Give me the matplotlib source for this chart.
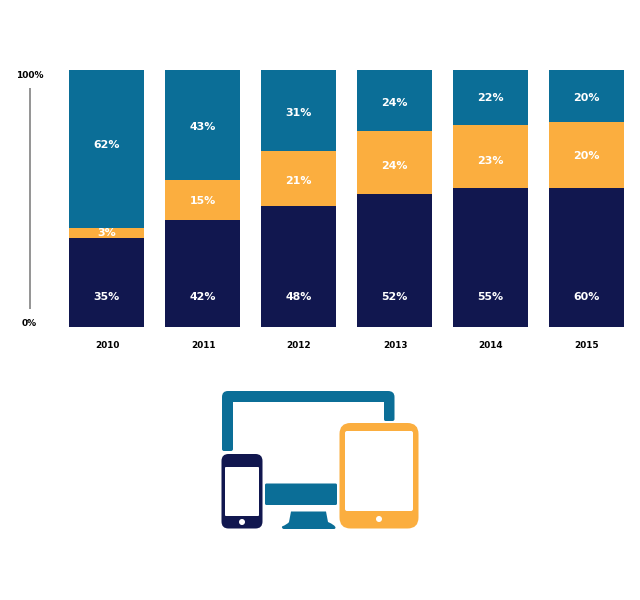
import matplotlib
matplotlib.use('Agg')
import matplotlib.pyplot as plt
import numpy as np
from matplotlib.patches import FancyBboxPatch, Circle, PathPatch
from matplotlib.path import Path

plt.rcParams['font.family'] = ['DejaVu Sans']

years = ['2010', '2011', '2012', '2013', '2014', '2015']
# heights as drawn in the picture (they don't quite match the printed labels)
navy_vals = [34.6, 41.6, 47.1, 51.8, 54.1, 54.1]
orange_vals = [3.9, 15.6, 21.4, 24.5, 24.5, 25.7]
teal_vals = [61.5, 42.8, 31.5, 23.7, 21.4, 20.2]
navy_labels = ['35%', '42%', '48%', '52%', '55%', '60%']
orange_labels = ['3%', '15%', '21%', '24%', '23%', '20%']
teal_labels = ['62%', '43%', '31%', '24%', '22%', '20%']
# label heights on the bars, in pixels from the top of the picture
navy_label_y = [297, 297, 297, 297, 297, 297]
orange_label_y = [233.5, 201.5, 180.5, 166, 161, 156]
teal_label_y = [145, 127, 113, 103, 98, 98]

NAVY = '#11174f'
ORANGE = '#fbae3f'
TEAL = '#0b6e97'

fig = plt.figure(figsize=(6.4, 6), dpi=100)

# bars
ax = fig.add_axes([69 / 640, (600 - 327) / 600, 555 / 640, 257 / 600])
x = np.arange(len(years))
w = 75 / 96
navy = np.array(navy_vals)
orange = np.array(orange_vals)
teal = np.array(teal_vals)
ax.bar(x, navy, w, color=NAVY, linewidth=0)
ax.bar(x, orange, w, bottom=navy, color=ORANGE, linewidth=0)
ax.bar(x, teal, w, bottom=navy + orange, color=TEAL, linewidth=0)
ax.set_xlim(-w / 2, len(years) - 1 + w / 2)
ax.set_ylim(0, 100)
ax.axis('off')

# overlay in pixel coordinates for the texts, the axis line and the devices icon
ov = fig.add_axes([0, 0, 1, 1])
ov.set_xlim(0, 640)
ov.set_ylim(600, 0)
ov.axis('off')
ov.patch.set_alpha(0)

lab = dict(color='white', fontsize=7.9, fontweight='bold', ha='center', va='center')
for i in x:
    cx = 106.5 + 96 * i
    ov.text(cx, navy_label_y[i], navy_labels[i], **lab)
    ov.text(cx, orange_label_y[i], orange_labels[i], **lab)
    ov.text(cx, teal_label_y[i], teal_labels[i], **lab)
    ov.text(cx + 0.5, 345, years[i], ha='center', va='center', fontsize=6.4,
            fontweight='bold', color='black')

ov.plot([29.5, 29.5], [88, 309], color='#777777', lw=1.1, solid_capstyle='butt')
ov.text(29.5, 76, '100%', fontsize=6.5, fontweight='bold', ha='center', va='center')
ov.text(29.5, 324, '0%', fontsize=6.5, fontweight='bold', ha='center', va='center')


def rbox(x0, y0, x1, y1, r, color):
    ov.add_patch(FancyBboxPatch((x0 + r, y0 + r), x1 - x0 - 2 * r, y1 - y0 - 2 * r,
                                boxstyle='round,pad=%s,rounding_size=%s' % (r, r),
                                fc=color, ec='none'))


def shape(steps, color):
    codes, verts = zip(*steps)
    ov.add_patch(PathPatch(Path(verts, codes), fc=color, ec='none'))


L, C = Path.LINETO, Path.CURVE3

# monitor
shape([(Path.MOVETO, (222, 449)), (L, (222, 397)), (C, (222, 391)), (C, (228, 391)),
       (L, (388, 391)), (C, (394.5, 391)), (C, (394.5, 397)), (L, (394.5, 419)),
       (C, (394.5, 421)), (C, (392.5, 421)), (L, (385.5, 421)), (C, (384, 421)), (C, (384, 419)),
       (L, (384, 402)), (L, (233, 402)), (L, (233, 449)), (C, (233, 451)), (C, (231, 451)),
       (L, (224, 451)), (C, (222, 451)), (C, (222, 449)), (Path.CLOSEPOLY, (222, 449))], TEAL)
rbox(265, 483.5, 337, 505, 1.5, TEAL)
shape([(Path.MOVETO, (291, 511.5)), (L, (326, 511.5)), (L, (328, 522)),
       (C, (335, 525)), (C, (335.5, 527.5)), (C, (335.5, 529)),
       (C, (334, 529)), (L, (284, 529)), (C, (281.5, 529)),
       (C, (282, 526.5)), (C, (288, 524)), (C, (289, 522)),
       (L, (291, 511.5)), (Path.CLOSEPOLY, (291, 511.5))], TEAL)

# phone
rbox(221.5, 454, 262.5, 528.5, 7, NAVY)
rbox(225, 467, 259, 516, 1, 'white')
ov.add_patch(Circle((242, 522), 3, fc='white', ec='none'))

# tablet
rbox(339.5, 423, 418.5, 528.5, 11, ORANGE)
rbox(345, 431, 413, 511, 2, 'white')
ov.add_patch(Circle((379, 519), 3, fc='white', ec='none'))

fig.savefig('out.png', dpi=100)
